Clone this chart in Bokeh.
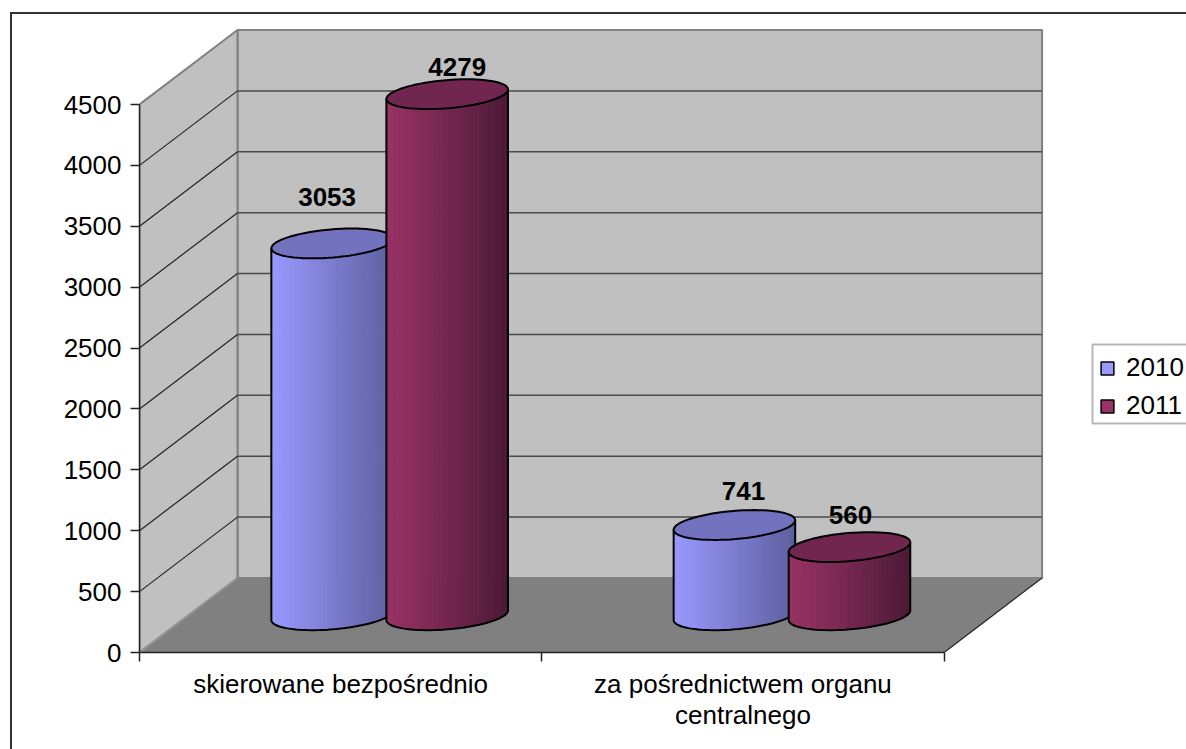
from math import atan2, cos, sin, pi
from bokeh.embed import file_html
from bokeh.resources import INLINE
from bokeh.plotting import figure
from bokeh.models import (ColumnDataSource, FixedTicker, BoxAnnotation, Legend, LegendItem, Range1d, InlineStyleSheet)
from bokeh.core.properties import value

categories = ["skierowane bezpośrednio", "za pośrednictwem organu\ncentralnego"]
series_names = ["2010", "2011"]
values_2010 = [3053, 741]
values_2011 = [4279, 560]
y_ticks = [0, 500, 1000, 1500, 2000, 2500, 3000, 3500, 4000, 4500]

FONT = "Liberation Sans"
FS = "26px"
W, H = 1186, 749
LEFT, BOTTOM = 139, 97            # frame starts 139px in, ends 97px above the bottom
PX_CAT = 402.3                    # pixels per category
PX_VAL = 548 / 4500               # pixels per value unit
DEPTH_X = 98 / PX_CAT             # depth projection, category units
DEPTH_Y = 74.5 / PX_VAL           # depth projection, value units
BAR_OFFSET, BAR_A, BAR_F = 0.143, 0.143, 0.2
WALL, FLOOR, EDGE, GRID = "#C0C0C0", "#808080", "#808080", "#4a4a4a"

# colours per series: light side, dark side, cap
STYLE = {
    "2010": ("#9999FF", "#5E5E9E", "#7272BE"),
    "2011": ("#993366", "#4C1A36", "#70264F"),
}
LABEL_DX = {"2010": [-5, 9], "2011": [10, 1]}
LABEL_DY = {"2010": [-46, -34], "2011": [-27, -32]}

fw, fh = W - LEFT, H - BOTTOM
p = figure(width=W, height=H, frame_width=fw, frame_height=fh, output_backend="svg", toolbar_location=None,
           x_range=Range1d(0, fw / PX_CAT), y_range=Range1d(0, fh / PX_VAL),
           min_border_left=LEFT, min_border_bottom=BOTTOM, min_border_top=0, min_border_right=0,
           outline_line_color=None, background_fill_color="white", border_fill_color="white")
p.grid.visible = False

# axes
xa, ya = p.xaxis[0], p.yaxis[0]
ya.ticker = FixedTicker(ticks=y_ticks)
ya.bounds = (0, 4500)
ya.major_tick_in, ya.major_tick_out = 0, 9
ya.minor_tick_in = ya.minor_tick_out = 0
ya.major_label_standoff = 9
ya.major_label_text_font = FONT
ya.major_label_text_font_size = FS
ya.major_label_text_color = "black"
ya.axis_line_color = ya.major_tick_line_color = "#222222"
ya.axis_line_width = ya.major_tick_line_width = 1.5

xa.ticker = FixedTicker(ticks=[0.5, 1.5], minor_ticks=[0, 1, 2])
xa.major_label_overrides = {0.5: categories[0], 1.5: categories[1]}
xa.bounds = (0, 2)
xa.major_tick_in = xa.major_tick_out = 0
xa.minor_tick_in, xa.minor_tick_out = 0, 9
xa.major_label_standoff = 7
xa.major_label_text_font = FONT
xa.major_label_text_font_size = FS
xa.major_label_text_color = "black"
xa.major_label_text_line_height = 1.05
xa.axis_line_color = xa.minor_tick_line_color = "#222222"
xa.axis_line_width = xa.minor_tick_line_width = 1.5

# walls and floor
n = len(categories)
top = y_ticks[-1]
p.patch([DEPTH_X, n + DEPTH_X, n + DEPTH_X, DEPTH_X], [DEPTH_Y, DEPTH_Y, top + DEPTH_Y, top + DEPTH_Y],
        fill_color=WALL, line_color=EDGE, line_width=2)
p.patch([0, DEPTH_X, DEPTH_X, 0], [0, DEPTH_Y, top + DEPTH_Y, top],
        fill_color=WALL, line_color=EDGE, line_width=2)
p.patch([0, n, n + DEPTH_X, DEPTH_X], [0, 0, DEPTH_Y, DEPTH_Y], fill_color=FLOOR, line_color=None)
p.line([0, DEPTH_X], [0, DEPTH_Y], line_color="#999999", line_width=1.5)
p.line([n, n + DEPTH_X], [0, DEPTH_Y], line_color="#222222", line_width=1.2)
grid = y_ticks[1:-1]
p.segment([DEPTH_X] * len(grid), [g + DEPTH_Y for g in grid], [n + DEPTH_X] * len(grid), [g + DEPTH_Y for g in grid],
          line_color=GRID, line_width=1.5)
side = y_ticks[1:-1]
p.segment([0] * len(side), side, [DEPTH_X] * len(side), [g + DEPTH_Y for g in side],
          line_color="#222222", line_width=1.2)


def mix(c1, c2, t):
    a = [int(c1[i:i + 2], 16) for i in (1, 3, 5)]
    b = [int(c2[i:i + 2], 16) for i in (1, 3, 5)]
    return "#%02x%02x%02x" % tuple(round(x + (y - x) * t) for x, y in zip(a, b))


def ring(c, val, t):
    return (c + 0.5 * DEPTH_X + BAR_A * cos(t) + BAR_F * DEPTH_X * sin(t),
            val + 0.5 * DEPTH_Y + BAR_F * DEPTH_Y * sin(t))


def cylinder(c, val, name):
    light, dark, cap = STYLE[name]
    t0 = atan2(BAR_F * DEPTH_X, BAR_A)
    steps = 44
    ts = [t0 - pi + pi * i / steps for i in range(steps + 1)]
    xs, ys, cols = [], [], []
    for i in range(steps):
        a, b = ts[i], ts[i + 1]
        ta, tb = ring(c, val, a), ring(c, val, b)
        ba, bb = ring(c, 0, a), ring(c, 0, b)
        xs.append([ta[0], tb[0], bb[0], ba[0]])
        ys.append([ta[1], tb[1], bb[1], ba[1]])
        frac = (ta[0] - ring(c, 0, ts[0])[0]) / (ring(c, 0, ts[-1])[0] - ring(c, 0, ts[0])[0])
        cols.append(mix(light, dark, frac))
    p.patches(xs, ys, fill_color=cols, line_color=cols, line_width=1)
    front_b = [ring(c, 0, t) for t in ts]
    lx = [ring(c, val, ts[0])[0]] + [q[0] for q in front_b] + [ring(c, val, ts[-1])[0]]
    ly = [ring(c, val, ts[0])[1]] + [q[1] for q in front_b] + [ring(c, val, ts[-1])[1]]
    p.line(lx, ly, line_color="black", line_width=2)
    full = [ring(c, val, 2 * pi * i / 72) for i in range(73)]
    p.patch([q[0] for q in full], [q[1] for q in full], fill_color=cap, line_color="black", line_width=2)


for g in range(n):
    cylinder(g + 0.5 - BAR_OFFSET, values_2010[g], "2010")
    cylinder(g + 0.5 + BAR_OFFSET, values_2011[g], "2011")

# data labels
lab = ColumnDataSource(dict(
    x=[g + 0.5 - BAR_OFFSET + 0.5 * DEPTH_X for g in range(n)] + [g + 0.5 + BAR_OFFSET + 0.5 * DEPTH_X for g in range(n)],
    y=[v + 0.5 * DEPTH_Y for v in values_2010] + [v + 0.5 * DEPTH_Y for v in values_2011],
    t=[str(v) for v in values_2010] + [str(v) for v in values_2011],
    dx=LABEL_DX["2010"] + LABEL_DX["2011"],
    dy=LABEL_DY["2010"] + LABEL_DY["2011"],
))
p.text("x", "y", text="t", x_offset="dx", y_offset="dy", source=lab, text_font=value(FONT), text_font_size=value(FS),
       text_font_style="bold", text_color="black", text_align="center", text_baseline="middle")

# legend
nan = float("nan")
r10 = p.quad(left=[nan], right=[nan], top=[nan], bottom=[nan], fill_color=STYLE["2010"][0], line_color="black", line_width=1.5)
r11 = p.quad(left=[nan], right=[nan], top=[nan], bottom=[nan], fill_color=STYLE["2011"][0], line_color="black", line_width=1.5)
p.add_layout(BoxAnnotation(left=1092, right=1300, top=344, bottom=423,
                           left_units="canvas", right_units="canvas", top_units="canvas", bottom_units="canvas",
                           fill_color="white", fill_alpha=1, line_color="#111111", line_width=2))
leg = Legend(items=[LegendItem(label=value(series_names[0]), renderers=[r10]),
                    LegendItem(label=value(series_names[1]), renderers=[r11])],
             location=(960, 231), orientation="vertical", margin=0, padding=10, spacing=7,
             glyph_width=16, glyph_height=16, label_standoff=11, label_text_font=FONT, label_text_font_size=FS,
             label_text_color="black", label_height=26, border_line_color=None,
             background_fill_alpha=0)
p.add_layout(leg, "center")

# chart-area border that runs off the page at right and bottom
p.stylesheets = [InlineStyleSheet(css=":host::after{content:'';position:absolute;left:10px;top:12px;right:0;bottom:0;"
                                      "border-left:2px solid #333;border-top:2px solid #333;pointer-events:none;z-index:10}")]

open("out.html", "w").write(file_html(p, INLINE))
